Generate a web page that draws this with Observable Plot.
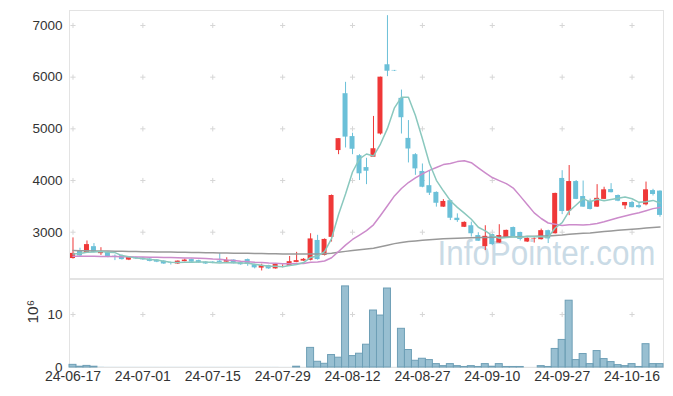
<!DOCTYPE html>
<html><head><meta charset="utf-8">
<script src="https://cdn.jsdelivr.net/npm/d3@7"></script>
<script src="https://cdn.jsdelivr.net/npm/@observablehq/plot@0.6"></script>
<style>
body{margin:0;background:#fff;}
#chart{width:673px;height:396px;}
#chart svg{display:block;}
</style></head><body><div id="chart"></div>
<script>
const dates = ["24-06-17","24-06-18","24-06-19","24-06-20","24-06-21","24-06-24","24-06-25","24-06-26","24-06-27","24-06-28",
"24-07-01","24-07-02","24-07-03","24-07-04","24-07-05","24-07-08","24-07-09","24-07-10","24-07-11","24-07-12",
"24-07-15","24-07-16","24-07-17","24-07-18","24-07-19","24-07-22","24-07-23","24-07-24","24-07-25","24-07-26",
"24-07-29","24-07-30","24-07-31","24-08-01","24-08-02","24-08-05","24-08-06","24-08-07","24-08-08","24-08-09",
"24-08-12","24-08-13","24-08-14","24-08-16","24-08-19","24-08-20","24-08-21","24-08-22","24-08-23","24-08-26",
"24-08-27","24-08-28","24-08-29","24-08-30","24-09-02","24-09-03","24-09-04","24-09-05","24-09-06","24-09-09",
"24-09-10","24-09-11","24-09-12","24-09-13","24-09-19","24-09-20","24-09-23","24-09-24","24-09-25","24-09-26",
"24-09-27","24-09-30","24-10-02","24-10-04","24-10-07","24-10-08","24-10-10","24-10-11","24-10-14","24-10-15",
"24-10-16","24-10-17","24-10-18","24-10-21","24-10-22"];
const open = [2490,2630,2600,2720,2585,2605,2535,2545,2460,2510,
2500,2480,2460,2440,2405,2385,2430,2470,2450,2420,
2420,2440,2420,2460,2410,2470,2370,2305,2355,2290,
2320,2340,2415,2440,2455,2840,2550,2900,4580,5680,
4850,4480,4250,4450,4900,6240,6130,5590,4815,4500,
4175,3900,3770,3485,3610,3270,3095,3125,2935,2720,
2955,2790,2890,3090,2995,2810,2865,2855,3030,2970,
4040,3405,3980,3690,3600,3485,3635,3825,3710,3510,
3575,3515,3530,3805,3795];
const high = [2890,2690,2830,2780,2700,2620,2560,2560,2520,2520,
2510,2490,2470,2450,2420,2445,2480,2480,2460,2430,
2430,2590,2505,2465,2415,2480,2380,2380,2360,2390,
2370,2530,2610,2490,2970,2940,2870,3720,4810,5900,
4915,4500,4430,5240,6000,7190,6130,5750,5160,4520,
4320,4190,3780,3630,3620,3355,3200,3195,2990,3125,
2960,3145,3040,3100,3000,2890,2890,3060,3040,3755,
4190,4290,4000,3990,3640,3920,3870,3940,3720,3575,
3600,3560,3970,3830,3800];
const low = [2480,2530,2590,2600,2550,2505,2450,2460,2450,2475,
2455,2425,2410,2375,2365,2375,2425,2415,2400,2375,
2390,2405,2415,2385,2360,2340,2290,2250,2280,2285,
2310,2335,2410,2435,2445,2460,2540,2810,4500,4630,
4500,4000,3920,4450,4880,6010,6110,4900,4340,4100,
3860,3710,3485,3480,3225,3190,3090,2905,2820,2645,
2740,2785,2885,2900,2830,2800,2790,2850,2780,2965,
3340,3320,3630,3480,3430,3480,3630,3760,3590,3440,
3470,3455,3510,3700,3290];
const close = [2590,2540,2760,2610,2625,2515,2515,2470,2510,2485,
2465,2435,2420,2385,2395,2440,2460,2420,2405,2385,
2400,2415,2455,2390,2370,2375,2310,2355,2290,2375,
2330,2430,2450,2475,2870,2470,2860,3710,4810,4840,
4605,4130,4180,4615,6000,6115,6120,5215,4610,4225,
3870,3755,3560,3595,3270,3225,3190,2970,2825,2920,
2760,2935,3035,2905,2860,2880,2875,3030,2870,3750,
3400,3980,3635,3485,3440,3655,3820,3765,3600,3575,
3475,3475,3820,3730,3325];
// volume in millions of shares
const volume = [0.5,0.15,0.3,0.15,0.05,0.03,0.03,0.03,0.03,0.03,
0.03,0.03,0.03,0.03,0.03,0.03,0.03,0.03,0.03,0.03,
0.03,0.03,0.03,0.03,0.03,0.03,0.03,0.03,0.03,0.03,
0.02,0.02,0.15,0.02,3.7,1.08,0.7,2.35,1.85,15.3,
2.15,2.6,4.3,10.75,9.8,14.9,0.02,7.3,3.3,1.27,
1.65,1.4,0.64,0.26,0.64,0.26,0.1,0.26,0.1,0.64,
0.15,0.64,0.1,0.1,0.1,0.02,0.02,0.26,0.1,3.5,
5.2,12.6,1.4,2.54,0.64,3.1,1.59,1.02,0.45,0.26,
0.64,0.1,4.4,0.64,0.64];
const ma5 = [2580,2590,2610,2615,2625,2610,2605,2547,2527,2499,
2489,2473,2463,2438,2420,2415,2420,2420,2424,2422,
2414,2405,2412,2409,2406,2401,2380,2360,2340,2341,
2332,2356,2375,2412,2511,2539,2625,2877,3344,3738,
4165,4419,4513,4474,4706,5008,5406,5613,5612,5257,
4808,4335,4004,3801,3610,3481,3368,3250,3096,3026,
2933,2882,2895,2911,2899,2923,2911,2910,2903,3081,
3185,3406,3527,3650,3588,3639,3607,3633,3656,3683,
3647,3578,3589,3615,3565];
const ma20 = [2535,2535,2534,2533,2532,2530,2528,2526,2524,2522,
2520,2517,2514,2511,2508,2505,2502,2499,2496,2492,
2482,2476,2461,2450,2437,2430,2420,2414,2403,2397,
2391,2390,2392,2396,2420,2422,2442,2506,2626,2749,
2859,2945,3031,3143,3324,3511,3702,3845,3961,4053,
4130,4196,4252,4308,4328,4366,4382,4345,4246,4150,
4058,3998,3941,3855,3698,3536,3374,3265,3178,3154,
3131,3142,3146,3140,3149,3170,3202,3241,3280,3313,
3349,3376,3415,3456,3479];
const ma120 = [2645,2643,2641,2638,2636,2634,2632,2630,2628,2625,
2623,2621,2619,2617,2615,2612,2610,2608,2606,2604,
2602,2599,2597,2595,2593,2591,2589,2586,2584,2582,
2580,2579,2578,2577,2580,2579,2582,2591,2610,2629,
2646,2659,2673,2690,2719,2749,2779,2801,2818,2832,
2843,2853,2862,2871,2877,2883,2888,2892,2895,2898,
2900,2904,2908,2911,2914,2917,2920,2924,2927,2938,
2946,2959,2969,2978,2986,3000,3013,3025,3036,3047,
3057,3067,3080,3092,3100];
const priceTicks = [3000,4000,5000,6000,7000];
const volTicks = [0,10];
const xTicks = dates.filter((d,i)=>i%10===0);

const rows = dates.map((d,i)=>({date:d,open:open[i],high:high[i],low:low[i],close:close[i],vol:volume[i],ma5:ma5[i],ma20:ma20[i],ma120:ma120[i]}));
const RED="#ef3838", BLUE="#6bc0d8";
const col = d => d.close >= d.open ? RED : BLUE;
const gridP = []; for (const x of xTicks) for (const y of priceTicks) gridP.push({x,y});
const gridV = xTicks.map(x=>({x,y:10}));
const style = {fontFamily:"'Liberation Sans', Arial, sans-serif", fontSize:"13px", color:"#333", background:"#fff", overflow:"visible"};

const price = Plot.plot({
  width:673, height:279, marginLeft:69, marginRight:10, marginTop:10, marginBottom:1,
  style,
  x:{type:"band", domain:dates, padding:0, axis:null},
  y:{domain:[2104,7290], axis:null},
  marks:[
    Plot.frame({stroke:"#e3e3e3"}),
    Plot.dot(gridP,{x:"x",y:"y",symbol:"plus",r:1.8,stroke:"#d6d6d6",strokeWidth:1}),
    Plot.text(["InfoPointer.com"],{text:d=>d,frameAnchor:"bottom-right",textAnchor:"end",dx:-8,dy:-13.5,fontSize:35,fill:"#cadbe6"}),
    Plot.ruleX(rows,{x:"date",y1:"low",y2:"high",stroke:col,strokeWidth:1}),
    Plot.barY(rows,{x:"date",y1:"open",y2:"close",fill:col,insetLeft:1,insetRight:1}),
    Plot.line(rows,{x:"date",y:"ma120",stroke:"#999999",strokeWidth:1.5}),
    Plot.line(rows,{x:"date",y:"ma20",stroke:"#cc8bcb",strokeWidth:1.5}),
    Plot.line(rows,{x:"date",y:"ma5",stroke:"#8ac8be",strokeWidth:1.5}),
    Plot.axisY({ticks:priceTicks,tickFormat:d=>String(d),tickSize:0,tickPadding:7,label:null,fontSize:13.5})
  ]
});

const vol = Plot.plot({
  width:673, height:117, marginLeft:69, marginRight:10, marginTop:0, marginBottom:29,
  style,
  x:{type:"band", domain:dates, padding:0},
  y:{domain:[0,16.6]},
  marks:[
    Plot.frame({stroke:"#e3e3e3"}),
    Plot.dot(gridV,{x:"x",y:"y",symbol:"plus",r:1.8,stroke:"#d6d6d6",strokeWidth:1}),
    Plot.barY(rows,{x:"date",y:"vol",fill:"#98bfd1"}),
    Plot.barY(rows,{x:"date",y:"vol",fill:"none",stroke:"#6e9fb6",strokeWidth:1,filter:d=>d.vol>0.08}),
    Plot.text(["10⁶"],{text:d=>d,frameAnchor:"left",dx:-36,rotate:-90,fontSize:15.5,fill:"#333"}),
    Plot.axisY({ticks:volTicks,tickSize:0,tickPadding:7,label:null,fontSize:13.5}),
    Plot.axisX({ticks:xTicks,tickSize:0,tickPadding:4,label:null,fontSize:14})
  ]
});

const root = document.getElementById("chart");
root.appendChild(price);
root.appendChild(vol);
d3.select(price).selectAll("text").filter(function(){return this.textContent==="InfoPointer.com";})
  .attr("textLength",218).attr("lengthAdjust","spacingAndGlyphs");
</script></body></html>
